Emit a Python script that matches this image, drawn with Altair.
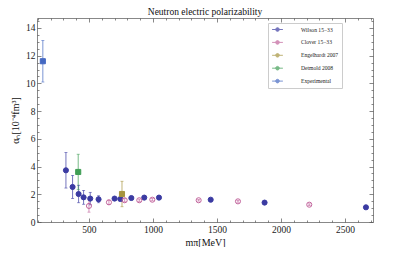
import altair as alt
import pandas as pd

# ---------------- data ----------------
series_names = ["Wilson 15−33", "Clover 15−33", "Engelhardt 2007", "Detmold 2008", "Experimental"]

wilson_m = [320, 372, 419, 458, 510, 575, 700, 745, 831, 932, 1047, 1451, 1872, 2664]
wilson_a = [3.73, 2.53, 2.02, 1.78, 1.69, 1.64, 1.69, 1.66, 1.73, 1.76, 1.76, 1.61, 1.40, 1.06]
wilson_e = [1.28, 0.83, 0.63, 0.50, 0.45, 0.25, 0.08, 0.08, 0.07, 0.07, 0.07, 0.06, 0.06, 0.06]

clover_m = [500, 656, 779, 893, 995, 1357, 1664, 2221]
clover_a = [1.16, 1.42, 1.57, 1.57, 1.61, 1.57, 1.49, 1.25]
clover_e = [0.45, 0.15, 0.12, 0.08, 0.08, 0.06, 0.06, 0.06]

engel_m = [758]
engel_a = [2.02]
engel_e = [0.92]

detmold_m = [416]
detmold_a = [3.61]
detmold_e = [1.28]

exp_m = [139.6]
exp_a = [11.6]
exp_e = [1.5]

x_ticks = list(range(100, 2701, 100))
x_labels = [500, 1000, 1500, 2000, 2500]
y_ticks = [i * 0.5 for i in range(0, 30)]
y_labels = [0, 2, 4, 6, 8, 10, 12, 14]

stroke_colors = ["#3b3ba2", "#c2649c", "#a6943e", "#3f9e55", "#4468c2"]
fill_colors = ["#3b3ba2", "transparent", "#a6943e", "#3f9e55", "#4468c2"]
legend_fills = ["#3b3ba2", "white", "#a6943e", "#3f9e55", "#4468c2"]
shapes = ["circle", "circle", "square", "square", "square"]

rows = []
for k, (ms, aa, ee) in enumerate([
    (wilson_m, wilson_a, wilson_e),
    (clover_m, clover_a, clover_e),
    (engel_m, engel_a, engel_e),
    (detmold_m, detmold_a, detmold_e),
    (exp_m, exp_a, exp_e),
]):
    for m, a, e in zip(ms, aa, ee):
        rows.append({"series": series_names[k], "mk": shapes[k], "m": m, "a": a,
                     "lo": a - e, "hi": a + e})
df = pd.DataFrame(rows)

# ---------------- layout ----------------
W, H = 336, 204
SERIF = "Liberation Serif"

xs = alt.Scale(domain=[94, 2719], nice=False, zero=False)
ys = alt.Scale(domain=[0, 14.72], nice=False, zero=False)
stroke_scale = alt.Scale(domain=series_names, range=stroke_colors)


def tick_axis(orient, offset, values, test):
    return alt.Axis(
        orient=orient, offset=offset, values=values, labels=False, domain=False,
        grid=False, title=None, tickColor="#555", tickWidth=0.7,
        tickSize={"condition": {"test": test, "value": 4}, "value": 2},
    )


x_major = "datum.value % 500 === 0"
y_major = "datum.value % 2 === 0"

rules = alt.Chart(df).mark_rule(strokeWidth=1, opacity=0.7).encode(
    x=alt.X("m:Q", scale=xs, axis=tick_axis("top", -H, x_ticks, x_major)),
    y=alt.Y("lo:Q", scale=ys, axis=tick_axis("right", -W, y_ticks, y_major)),
    y2="hi:Q",
    stroke=alt.Stroke("series:N", scale=stroke_scale),
)

caps_lo = alt.Chart(df).mark_tick(orient="horizontal", size=3, thickness=0.8, opacity=0.7).encode(
    x=alt.X("m:Q", scale=xs, axis=tick_axis("bottom", -H, x_ticks, x_major)),
    y=alt.Y("lo:Q", scale=ys, axis=tick_axis("left", -W, y_ticks, y_major)),
    fill=alt.Fill("series:N", scale=stroke_scale),
)

caps_hi = alt.Chart(df).mark_tick(orient="horizontal", size=3, thickness=0.8, opacity=0.7).encode(
    x=alt.X("m:Q", scale=xs, axis=None),
    y=alt.Y("hi:Q", scale=ys, axis=None),
    fill=alt.Fill("series:N", scale=stroke_scale),
)

fill_map = "{" + ",".join("'%s':'%s'" % (n, c) for n, c in zip(series_names, legend_fills)) + "}"
legend_path = "M-1.8,0H1.8M0.6,0A0.6,0.6 0 1,1 -0.6,0A0.6,0.6 0 1,1 0.6,0Z"
leg = alt.Legend(
    title=None, orient="none", legendX=231, legendY=5, padding=3,
    symbolOffset=3, labelOffset=20, labelFont=SERIF, labelFontSize=5.6,
    labelColor="#222", symbolSize=36, symbolStrokeWidth=1, rowPadding=3.9,
    strokeColor="#cccccc", fillColor="white", symbolType=legend_path,
    symbolFillColor={"expr": fill_map + "[datum.value] || 'white'"},
)

points = alt.Chart(df).mark_point(size=26, strokeWidth=1, opacity=1, fillOpacity=1, filled=True).encode(
    x=alt.X("m:Q", scale=xs, axis=alt.Axis(
        orient="bottom", values=x_labels, ticks=False, domain=False, grid=False,
        format="d", labelPadding=2, title="mπ[MeV]", titlePadding=4)),
    y=alt.Y("a:Q", scale=ys, axis=alt.Axis(
        orient="left", values=y_labels, ticks=False, domain=False, grid=False,
        format="d", labelPadding=2, title="αₙ[10⁻⁴fm³]", titlePadding=5)),
    color=alt.Color("series:N", scale=alt.Scale(domain=series_names, range=fill_colors), legend=None),
    stroke=alt.Stroke("series:N", scale=stroke_scale, legend=leg),
    shape=alt.Shape("mk:N", scale=None),
)

chart = alt.layer(rules, caps_lo, caps_hi, points).resolve_axis(
    x="independent", y="independent"
).resolve_scale(color="independent").properties(
    width=W, height=H,
    title=alt.Title("Neutron electric polarizability", font=SERIF, fontSize=9.5,
                    fontWeight="normal", color="#111", anchor="middle", offset=1),
    autosize=alt.AutoSizeParams(type="none"),
    padding={"left": 29, "top": 10, "right": 28, "bottom": 25},
).configure_view(
    stroke="#888", strokeWidth=1
).configure_axis(
    labelFont=SERIF, labelFontSize=9.5, labelColor="#222",
    titleFont=SERIF, titleFontSize=10, titleFontWeight="normal", titleColor="#111",
)

chart.save("out.html", embed_options={"renderer": "svg", "actions": False})
